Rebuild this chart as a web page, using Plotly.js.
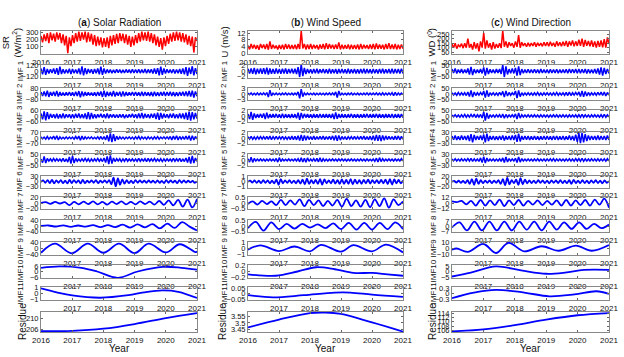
<!DOCTYPE html>
<html><head><meta charset="utf-8">
<script src="https://cdn.plot.ly/plotly-3.0.1.min.js"></script>
<style>html,body{margin:0;padding:0;background:#fff}#chart{width:624px;height:357px}</style>
</head><body><div id="chart"></div>
<script>
// ---------- tick labels ----------
const yearTicks = [2016, 2017, 2018, 2019, 2020, 2021];
const columnTitles = ['(<b>a</b>) Solar Radiation', '(<b>b</b>) Wind Speed', '(<b>c</b>) Wind Direction'];
const titlesA = ['SR<br>(W/m<sup>2</sup>)','IMF 1','IMF 2','IMF 3','IMF 4','IMF 5','IMF 6','IMF 7','IMF 8','IMF 9','IMF10','IMF11','Residue'];
const titlesB = ['U (m/s)','IMF 1','IMF 2','IMF 3','IMF 4','IMF 5','IMF 6','IMF 7','IMF 8','IMF 9','IMF10','IMF11','Residue'];
const titlesC = ['WD (<sup>0</sup>)','IMF 1','IMF 2','IMF 3','IMF4','IMF 5','IMF 6','IMF 7','IMF 8','IMF9','IMF10','IMF11','Residue'];
const yTicksA = [[100,200,300],[-120,0,120],[-80,0,80],[-60,0,60],[-70,0,70],[-50,0,50],[-30,0,30],[-20,0,20],[-40,0,40],[-40,0,40],[-6,0,6],[-1,0,1],[206,210]];
const yTicksB = [[0,4,8,12],[-2,0,2],[-3,0,3],[-2,0,2],[-2,0,2],[-2,0,2],[-1,0,1],[-0.5,0,0.5],[-0.5,0,0.5],[-1,0,1],[-0.2,0,0.2],[-0.05,0,0.05],[3.45,3.5,3.55]];
const yTicksC = [[50,100,150,200,250],[-50,0,50],[-50,0,50],[-50,0,50],[-30,0,30],[-30,0,30],[-20,0,20],[-12,0,12],[-7,0,7],[-10,0,10],[-5,0,5],[-0.3,0,0.3],[106,108,110,112,114]];

// ---------- (a) Solar radiation: daily-like series (evenly spaced samples) ----------
const srSeries = [250,160,270,180,290,150,300,190,280,170, 300,200,290,150,270,120,250,10,230,110,
 260,150,290,170,310,180,300,200,310,160, 300,170,280,130,260,110,240,120,230,90,
 220,100,230,80,250,120,260,140,280,150, 290,180,280,150,270,130,250,100,240,120,
 260,150,290,170,310,190,300,180,310,170, 290,150,270,120,240,100,220,60,230,110,
 250,140,280,170,300,180,310,190,300,170, 290,160,270,130,250,110,240,20,230,180];
const srImf1 = [60,-70,90,-80,50,-50,45,-40,60,-55, 70,-80,100,-60,45,-50,40,-45,55,-60,
 50,-45,40,-50,60,-70,110,-90,70,-60, 50,-40,45,-55,50,-45,60,-70,100,-80,
 60,-50,40,-35,35,-40,30,-35,40,-30, 35,-40,30,-35,40,-30,35,-40,45,-40,
 40,-35,45,-40,35,-40,50,-45,40,-35, 45,-50,60,-55,70,-90,100,-80,60,-50,
 45,-40,35,-40,45,-50,40,-45,50,-55, 60,-70,90,-100,80,-60,110,-90,70,-60];
const srImf2 = [30,-30,40,-35,50,-45,30,-25,35,-30, 45,-40,30,-25,20,-25,25,-20,30,-25,
 25,-30,35,-30,45,-50,40,-35,30,-25, 25,-20,20,-25,25,-30,30,-25,40,-45,
 50,-45,35,-30,30,-35,45,-40,30,-25, 35,-40,40,-35,30,-25,25,-20,30,-25,
 30,-25,25,-30,35,-30,30,-25,25,-30, 30,-35,35,-30,25,-30,30,-25,35,-30,
 30,-25,35,-30,30,-35,25,-30,30,-25, 35,-30,40,-35,45,-40,50,-55,40,-35];
const srImf3 = [30,-40,55,-50,45,-35,25,-20,20,-25, 25,-30,20,-25,30,-25,20,-15,20,-25,
 20,-25,25,-20,30,-25,20,-25,30,-35, 45,-40,35,-30,20,-25,20,-15,25,-20,
 20,-25,30,-25,20,-15,20,-20,15,-20, 20,-15,20,-25,15,-20,20,-15,25,-20,
 20,-25,30,-25,35,-30,25,-20,20,-25, 25,-20,30,-35,40,-45,35,-30,25,-20,
 20,-25,25,-20,30,-25,20,-25,30,-25, 30,-35,40,-45,50,-55,45,-40,35,-30];
const srImf4 = [15,-12,12,-15,20,-15,12,-10,25,-20, 30,-25,15,-12,10,-12,15,-12,12,-10,
 12,-15,20,-15,25,-30,25,-20,15,-12, 12,-10,15,-12,10,-12,15,-15,20,-18,
 20,-25,35,-45,60,-55,50,-40,25,-20, 15,-12,12,-15,12,-10,15,-12,12,-15,
 15,-12,20,-18,15,-12,12,-15,15,-12, 12,-15,15,-12,18,-15,12,-10,15,-12,
 15,-12,20,-25,25,-20,30,-25,20,-15, 15,-18,25,-20,30,-35,30,-25,20,-15];
const srImf5 = [10,-25,35,-30,15,-10,12,-12,15,-10, 12,-10,10,-12,15,-15,12,-20,30,-35,
 40,-30,15,-12,10,-12,12,-10,15,-12, 12,-15,10,-12,12,-10,15,-12,10,-15,
 20,-25,35,-40,45,-35,20,-15,12,-10, 12,-15,10,-12,15,-12,10,-10,12,-12,
 10,-12,15,-12,10,-10,12,-15,15,-12, 12,-10,15,-12,10,-12,12,-15,10,-12,
 12,-10,10,-12,15,-12,12,-10,15,-15, 12,-15,20,-25,30,-35,40,-30,20,-15];
const srImf6 = [-2,8,-6,10,-8,12,-10,8,-6,10,-8,6, -10,12,-8,10,-6,8,-10,12,-8,6,-5,8,
 -6,10,-8,6,-5,8,-6,10,-15,25,-28,20, -18,15,-12,10,-8,6,-8,10,-6,8,-5,6,
 -6,8,-5,6,-7,8,-6,5,-8,10,-6,8, -5,6,-8,10,-6,8,-5,6,-4,5,-6,2];
const srImf7 = [0,3,-3,4,-2,3,-8,4,-5,5,-4,6, -5,4,-6,5,-4,6,-5,4,-5,6,-4,5, -6,8,-7,10,-9,12,-14,13,-17,15];
const srImf8 = [0,4,-4,5,-6,4,-5,6,-8,6,-8,10,-12,12,-10,14,-18,18,-15,30,-5,-35];
const srImf9Year = [2016,2016.45,2016.98,2017.5,2018.0,2018.5,2019.0,2019.45,2020.0,2020.45,2020.95,2021];
const srImf9 = [-30,34,-34,34,-30,34,-33,34,-28,30,-25,-22];
const srImf10Year = [2016,2016.6,2017.3,2017.8,2018.45,2019.1,2019.9,2020.5,2021];
const srImf10 = [4,5.6,4,0,-6.8,0,5,4,2];
const srImf11Year = [2016,2016.5,2017.0,2017.9,2018.8,2019.3,2019.9,2020.4,2021];
const srImf11 = [0.9,0.2,-0.35,-0.75,-0.3,0.2,0.55,0.3,-0.8];
const srResYear = [2016,2017,2018,2019,2020,2021];
const srResidue = [205.3,205.4,206.2,207.9,210.1,211.9];

// ---------- (b) Wind speed ----------
const wsSeries = [4.5,2.2,5.5,2.8,5,2.5,4.8,2,5.5,3, 5.2,2.5,5.5,2,7,2.5,5,2.8,4.5,2.2,
 4.8,2.5,5,2.2,5.5,2.6,5.2,2.4,4.8,2.5, 5,2.3,5.5,2.5,13.5,2.8,5.5,2.2,5.2,2.5,
 5.5,2.5,5,2.8,4.8,2.2,5.2,2.6,5.5,2.3, 6,2.5,5.5,2.8,5,2.4,5.2,2.5,6.5,2.2,
 5,2.5,4.8,2.6,5.2,2.3,5,2.5,4.8,2.4, 5.2,2.2,5.5,2.5,5,2.8,4.8,2.4,5.2,2.5,
 5.5,2.3,5.8,2.5,5.2,2.6,5,2.2,5.5,2.5, 6,2.4,5.2,2.5,5.5,2.2,5,2.5,5.2,2.6];
const wsImf1 = [0.9,-0.8,1,-0.9,1.2,-1.1,0.9,-0.8,1,-0.9, 1.1,-1,1.3,-1.2,1,-0.9,0.8,-0.9,1,-0.8,
 0.8,-0.9,0.9,-0.8,1,-0.9,0.8,-0.7,0.9,-0.8, 0.9,-1,1.5,-2.2,2.6,-1.8,1.2,-1,0.8,-0.7,
 0.7,-0.8,0.8,-0.7,0.9,-0.8,0.7,-0.6,0.8,-0.7, 0.7,-0.8,0.9,-0.8,0.7,-0.7,0.8,-0.9,0.8,-0.7,
 0.8,-0.7,0.7,-0.8,0.9,-0.8,0.7,-0.7,0.8,-0.8, 0.7,-0.8,0.8,-0.7,0.9,-0.8,0.8,-0.7,0.7,-0.8,
 0.8,-0.7,0.7,-0.8,0.8,-0.7,0.9,-0.8,0.7,-0.7, 0.8,-0.8,0.9,-0.8,0.8,-0.7,0.8,-0.8,0.9,-0.8];
const wsImf2 = [0.5,-0.4,0.6,-0.5,0.4,-0.5,0.6,-0.5,0.5,-0.4, 0.6,-0.5,0.8,-1.8,2.2,-1,0.5,-0.4,0.5,-0.4,
 0.4,-0.5,0.5,-0.4,0.6,-0.5,0.4,-0.4,0.5,-0.5, 0.5,-0.4,1.2,-2.5,2.8,-1.5,0.6,-0.5,0.5,-0.4,
 0.4,-0.4,0.5,-0.5,0.4,-0.4,0.5,-0.4,0.4,-0.5, 0.5,-0.4,0.6,-0.5,0.6,-0.5,1.2,-2,1.8,-0.8,
 0.5,-0.4,0.4,-0.5,0.5,-0.4,0.6,-0.5,0.4,-0.4, 0.5,-0.5,0.4,-0.4,0.5,-0.4,0.6,-0.5,0.5,-0.4,
 0.5,-0.4,0.6,-0.5,0.5,-0.6,0.7,-0.6,0.5,-0.5, 0.6,-0.5,0.8,-0.9,1,-0.8,0.6,-0.5,0.5,-0.4];
const wsImf3 = [0.8,-1.2,1.6,-1.5,1,-0.8,0.7,-0.6,0.8,-0.7, 1,-1.2,1.3,-0.9,0.7,-0.6,0.7,-0.6,0.8,-0.7,
 0.7,-0.8,0.9,-0.8,0.7,-0.6,0.6,-0.7,0.7,-0.6, 0.7,-0.9,1.3,-1.5,1.2,-0.9,0.8,-0.6,0.7,-0.6,
 0.6,-0.7,0.7,-0.6,0.6,-0.7,0.8,-0.7,0.7,-0.6, 0.7,-0.6,0.7,-0.8,0.9,-1.2,1.4,-1.1,0.8,-0.7,
 0.7,-0.6,0.6,-0.7,0.7,-0.6,0.8,-0.7,0.6,-0.6, 0.7,-0.7,0.6,-0.6,0.7,-0.6,0.8,-0.7,0.7,-0.6,
 0.7,-0.6,0.8,-0.7,0.7,-0.6,0.6,-0.7,0.7,-0.6, 0.7,-0.7,0.8,-0.8,0.7,-0.6,0.7,-0.7,0.8,-0.7];
const wsImf4 = [0.5,-0.4,0.6,-0.5,0.4,-0.5,0.5,-0.4,0.5,-0.4, 0.5,-0.5,0.6,-0.5,0.7,-0.6,0.5,-0.4,0.6,-0.5,
 0.5,-0.4,0.6,-0.5,0.4,-0.5,0.5,-0.6,0.7,-0.6, 0.6,-0.7,0.9,-1,1.2,-1.1,1,-0.9,0.8,-0.6,
 0.5,-0.6,0.7,-0.6,0.5,-0.5,0.6,-0.5,0.7,-0.6, 0.5,-0.5,0.6,-0.6,0.8,-0.9,1,-1.1,1,-0.8,
 0.6,-0.5,0.5,-0.6,0.5,-0.4,0.5,-0.5,0.6,-0.5, 0.5,-0.5,0.6,-0.5,0.7,-0.6,0.5,-0.6,0.7,-0.8,
 0.9,-1,1.2,-1.1,1.1,-1.2,1,-0.9,0.8,-0.6, 0.6,-0.5,0.5,-0.6,0.7,-0.6,0.8,-0.7,0.6,-0.5];
const wsImf5 = [0.5,-0.8,1.1,-0.9,0.6,-0.4,0.3,-0.3,0.4,-0.3, 0.3,-0.4,0.3,-0.3,0.4,-0.3,0.3,-0.4,0.6,-0.8,
 0.9,-0.6,0.4,-0.3,0.3,-0.3,0.4,-0.3,0.3,-0.3, 0.4,-0.4,0.5,-0.7,0.9,-0.8,0.7,-0.9,0.8,-0.5,
 0.4,-0.4,0.5,-0.5,0.6,-0.7,0.9,-0.7,0.5,-0.4, 0.3,-0.4,0.3,-0.3,0.4,-0.3,0.3,-0.4,0.4,-0.3,
 0.4,-0.3,0.3,-0.4,0.3,-0.3,0.4,-0.3,0.3,-0.4, 0.3,-0.3,0.4,-0.3,0.3,-0.4,0.4,-0.3,0.3,-0.3,
 0.4,-0.5,0.7,-0.8,0.9,-0.6,0.5,-0.4,0.3,-0.3, 0.4,-0.3,0.3,-0.4,0.4,-0.3,0.3,-0.4,0.5,-0.4];
const wsImf6 = [0,0.2,-0.15,0.25,-0.2,0.2,-0.25,0.3,-0.2,0.25,-0.3,0.2, -0.3,0.4,-0.6,0.5,-0.3,0.25,-0.2,0.3,-0.25,0.2,-0.3,0.3,
 -0.35,0.4,-0.5,0.6,-0.4,0.3,-0.3,0.35,-0.4,0.5,-0.55,0.45, -0.3,0.25,-0.3,0.4,-0.35,0.3,-0.4,0.45,-0.4,0.35,-0.4,0.5,
 -0.5,0.4,-0.35,0.3,-0.4,0.35,-0.3,0.4,-0.35,0.3,-0.25,0.3, -0.3,0.35,-0.3,0.4,-0.45,0.5,-0.55,0.45,-0.3,0.35,-0.3,0.25];
const wsImf7 = [-0.1,0.15,-0.15,0.2,-0.1,0.15,-0.2,0.3,-0.2,0.25,-0.15,0.35,-0.3,0.3,-0.2,0.25,-0.3,0.2,-0.25,0.3,-0.35,0.4,-0.3,0.25,-0.35,0.3,-0.4,0.35,-0.3,0.45,-0.45,0.35,-0.2,0.15];
const wsImf8 = [-0.2,0.4,-0.45,0.35,-0.3,0.2,-0.25,0.2,-0.15,0.15,-0.2,0.25,-0.3,0.3,-0.35,0.3,-0.35,0.3,-0.3,0.35,-0.3];
const wsImf9Year = [2016,2016.4,2017.0,2017.5,2018.0,2018.35,2019.0,2019.4,2020.0,2020.45,2021];
const wsImf9 = [-0.2,0.55,-0.45,0.35,-0.5,0.65,-0.55,0.6,-0.5,0.7,-0.7];
const wsImf10Year = [2016,2016.9,2017.6,2018.2,2018.8,2019.4,2020.0,2020.5,2021];
const wsImf10 = [-0.1,-0.15,0.0,0.15,0.08,-0.05,-0.05,-0.1,-0.15];
const wsImf11Year = [2016,2016.8,2017.8,2018.8,2019.3,2020.0,2021];
const wsImf11 = [-0.015,-0.035,-0.015,0.008,0.008,-0.01,-0.03];
const wsResYear = [2016,2017,2018,2018.5,2019,2020,2021];
const wsResidue = [3.467,3.525,3.573,3.577,3.567,3.504,3.436];

// ---------- (c) Wind direction ----------
const wdSeries = [140,100,150,90,130,110,145,95,150,100, 200,100,140,80,160,90,150,60,170,100,
 265,90,180,100,150,80,160,90,140,100, 150,95,290,110,170,100,160,120,150,100,
 170,110,240,100,160,120,150,110,155,115, 150,120,160,110,155,120,150,115,160,120,
 160,115,165,120,155,110,170,120,160,115, 165,120,175,110,170,125,180,115,170,120,
 190,120,200,110,185,120,175,115,180,110, 170,100,175,110,180,105,195,100,215,140];
const wdImf1 = [20,-15,25,-20,15,-15,20,-18,15,-15, 25,-30,40,-35,20,-18,15,-15,20,-20,
 35,-40,30,-25,18,-15,15,-18,20,-15, 20,-25,60,-55,45,-30,20,-18,25,-20,
 30,-40,45,-35,20,-18,15,-15,18,-15, 15,-15,18,-15,15,-18,20,-15,15,-15,
 15,-18,18,-15,15,-15,18,-18,15,-15, 15,-15,18,-18,20,-15,18,-15,20,-18,
 20,-18,18,-15,20,-20,18,-18,15,-18, 20,-20,25,-30,35,-40,30,-25,20,-20];
const wdImf2 = [12,-10,10,-12,15,-10,12,-10,12,-15, 20,-25,35,-30,20,-15,12,-10,15,-12,
 30,-35,35,-25,12,-10,12,-12,10,-12, 15,-12,25,-30,30,-20,15,-12,12,-10,
 30,-40,35,-25,12,-12,10,-10,12,-10, 10,-12,12,-10,15,-12,10,-12,12,-10,
 12,-10,10,-12,12,-10,15,-12,10,-10, 12,-12,15,-15,18,-15,12,-10,15,-12,
 20,-25,30,-28,25,-20,15,-12,12,-10, 12,-12,15,-12,18,-15,20,-18,15,-12];
const wdImf3 = [10,-8,12,-10,10,-12,12,-10,15,-12, 12,-10,15,-12,18,-15,12,-10,15,-20,
 40,-45,30,-25,12,-10,10,-12,12,-10, 12,-15,20,-22,15,-12,10,-10,12,-10,
 20,-30,30,-20,12,-10,10,-10,12,-10, 10,-10,12,-10,10,-12,12,-10,10,-10,
 10,-12,10,-10,12,-10,12,-12,10,-10, 12,-10,10,-12,12,-10,10,-10,12,-12,
 12,-12,15,-12,12,-10,10,-12,12,-10, 12,-10,10,-12,12,-12,15,-12,12,-10];
const wdImf4 = [12,-10,15,-12,10,-12,15,-10,12,-12, 15,-18,22,-25,18,-12,12,-10,15,-12,
 20,-25,25,-18,12,-10,12,-12,10,-12, 12,-10,15,-15,12,-10,12,-12,15,-12,
 18,-22,26,-20,12,-10,12,-10,12,-12, 10,-10,12,-10,10,-12,10,-10,12,-10,
 12,-10,10,-12,12,-10,12,-12,10,-10, 12,-12,10,-10,15,-12,12,-15,20,-22,
 28,-30,30,-25,22,-18,15,-12,12,-10, 12,-12,15,-12,12,-10,12,-12,15,-12];
const wdImf5 = [6,-5,7,-6,5,-6,7,-5,6,-6, 8,-6,10,-8,7,-6,6,-8,12,-15,
 20,-18,12,-8,6,-5,6,-6,5,-6, 7,-8,12,-15,18,-12,8,-6,6,-5,
 10,-15,18,-12,8,-6,5,-5,6,-5, 5,-6,6,-5,7,-6,5,-5,6,-6,
 6,-5,7,-6,8,-7,6,-5,6,-5, 5,-6,6,-5,7,-6,6,-7,8,-6,
 8,-7,9,-8,7,-6,6,-6,7,-5, 6,-6,7,-6,6,-5,7,-7,8,-6];
const wdImf6 = [0,3,-3,4,-4,3,-5,6,-8,10,-12,12, -8,6,-5,4,-4,5,-5,4,-4,6,-8,10,
 -14,15,-10,6,-5,8,-12,14,-10,8,-6,5, -5,4,-5,6,-4,5,-5,4,-6,5,-4,5,
 -5,6,-5,4,-5,6,-8,7,-5,4,-5,6, -5,4,-6,5,-4,6,-5,4,-6,5,-4,3];
const wdImf7 = [4,2,5,-3,5,-6,7,-6,6,-5,8,-7,6,-5,7,-6,5,-4,6,-5,5,-4,6,-6,7,-6,6,-5,7,-6,8,-4,10,-11];
const wdImf8 = [-2,5,-6,6,-6,6,-6,6,-6,6,-5,6,-6,6,-5,5,-4,5,-4,3,-3,2];
const wdImf9Year = [2016,2016.15,2016.5,2017.0,2017.4,2017.8,2018.3,2018.85,2019.4,2019.95,2020.45,2021];
const wdImf9 = [-2,0,-6,8,-8,10,-5,4,-4,5,-4,6];
const wdImf10Year = [2016,2016.6,2017.4,2018.2,2019.0,2019.6,2020.2,2021];
const wdImf10 = [-4.5,-1,4.5,1,-2,-1,1.5,1.5];
const wdImf11Year = [2016,2016.7,2017.4,2018.3,2019.1,2019.9,2020.6,2021];
const wdImf11 = [-0.25,0.05,0.2,0.05,-0.15,-0.05,0.12,-0.02];
const wdResYear = [2016,2017,2018,2019,2020,2021];
const wdResidue = [105.6,106.5,108.5,111,113,114];

// ---------- layout config (positions / styles, not data) ----------
const W = 624, H = 357;
const colPx = [[41,197],[248,403],[452,609]];
const titleXPx = [[11,20,20,20,20,20,20,20,20,20,20,20,22],[224,224,224,224,224,224,224,224,224,224,224,224,222],[431,433,433,433,433,433,433,433,433,433,433,433,432]];
const rowPx = [[31,54],[65,77.5],[88,100],[110,122],[132,144],[154,166],[176,187.5],[197,209],[220,232],[242,255],[265,278],[287,300],[312,332]];
const yRanges = [
 [[0,318],[-138,138],[-92,92],[-70,70],[-80,80],[-58,58],[-35,35],[-23,23],[-46,46],[-46,46],[-7,7],[-1.15,1.15],[205,212.3]],
 [[-0.6,13.4],[-2.3,2.3],[-3.45,3.45],[-2.3,2.3],[-2.3,2.3],[-2.3,2.3],[-1.15,1.15],[-0.58,0.58],[-0.58,0.58],[-1.15,1.15],[-0.23,0.23],[-0.058,0.058],[3.433,3.581]],
 [[30,285],[-58,58],[-58,58],[-58,58],[-35,35],[-35,35],[-23,23],[-14,14],[-8.2,8.2],[-11.5,11.5],[-5.8,5.8],[-0.35,0.35],[105.3,114.5]]
];

function evenYears(n){ const a=[]; for(let i=0;i<n;i++) a.push(2016+5*i/(n-1)); return a; }

const columns = [
 {titles: titlesA, ticks: yTicksA, rows: [
  [null, srSeries],[null, srImf1],[null, srImf2],[null, srImf3],[null, srImf4],[null, srImf5],
  [null, srImf6],[null, srImf7],[null, srImf8],[srImf9Year, srImf9],[srImf10Year, srImf10],[srImf11Year, srImf11],[srResYear, srResidue]]},
 {titles: titlesB, ticks: yTicksB, rows: [
  [null, wsSeries],[null, wsImf1],[null, wsImf2],[null, wsImf3],[null, wsImf4],[null, wsImf5],
  [null, wsImf6],[null, wsImf7],[null, wsImf8],[wsImf9Year, wsImf9],[wsImf10Year, wsImf10],[wsImf11Year, wsImf11],[wsResYear, wsResidue]]},
 {titles: titlesC, ticks: yTicksC, rows: [
  [null, wdSeries],[null, wdImf1],[null, wdImf2],[null, wdImf3],[null, wdImf4],[null, wdImf5],
  [null, wdImf6],[null, wdImf7],[null, wdImf8],[wdImf9Year, wdImf9],[wdImf10Year, wdImf10],[wdImf11Year, wdImf11],[wdResYear, wdResidue]]}
];

const FONT = 'Liberation Sans, Arial, sans-serif';
const traces = [];
const layout = {
  width: W, height: H, margin: {l:0,r:0,t:0,b:0},
  paper_bgcolor: '#fff', plot_bgcolor: '#fff', showlegend: false,
  font: {family: FONT, size: 8, color: '#000'},
  annotations: []
};

columns.forEach((col, c) => {
  col.rows.forEach((row, r) => {
    const k = c*13 + r + 1;
    const xs = row[0] || evenYears(row[1].length);
    const noisy = r <= 5;
    traces.push({
      type: 'scatter', mode: 'lines', x: xs, y: row[1],
      xaxis: 'x' + (k===1?'':k), yaxis: 'y' + (k===1?'':k),
      line: {color: r===0 ? '#ff0000' : '#0000ff', width: noisy ? 1.5 : 1.8,
             shape: noisy ? 'linear' : 'spline', smoothing: 1},
      hoverinfo: 'skip'
    });
    const [x0,x1] = colPx[c], [t,b] = rowPx[r];
    const showAll = (r===0 || r===12);
    const tv = showAll ? yearTicks : yearTicks.slice(1);
    layout['xaxis' + (k===1?'':k)] = {
      domain: [x0/W, x1/W], anchor: 'y' + (k===1?'':k), range: [2016, 2021],
      tickvals: tv, ticktext: tv.map(String), ticks: 'inside', ticklen: 2, tickcolor: '#666',
      showline: true, linecolor: '#888', linewidth: 1, mirror: 'ticks',
      showgrid: false, zeroline: false, tickfont: {size: 8, family: FONT, color: '#111'},
      fixedrange: true
    };
    const yt = col.ticks[r];
    layout['yaxis' + (k===1?'':k)] = {
      domain: [1 - b/H, 1 - t/H], anchor: 'x' + (k===1?'':k), range: yRanges[c][r],
      tickvals: yt, ticktext: yt.map(v => String(v).replace('-', '\u2212')),
      ticks: 'inside', ticklen: 2, tickcolor: '#666',
      showline: true, linecolor: '#888', linewidth: 1, mirror: 'ticks',
      showgrid: false, zeroline: false, tickfont: {size: 7.5, family: FONT, color: '#111'},
      fixedrange: true
    };
    layout.annotations.push({
      text: col.titles[r], textangle: -90, x: titleXPx[c][r]/W, y: 1 - ((t+b)/2)/H,
      xref: 'paper', yref: 'paper', showarrow: false, xanchor: 'center', yanchor: 'middle',
      font: {size: r===12 ? 10 : (r===0 ? 9.5 : 8), family: FONT, color: '#111'}
    });
  });
  const cx = (colPx[c][0] + colPx[c][1]) / 2;
  layout.annotations.push({text: columnTitles[c], x: cx/W, y: 1 - 23/H, xref: 'paper', yref: 'paper',
    showarrow: false, xanchor: 'center', yanchor: 'middle', font: {size: 10, family: FONT, color: '#111'}});
  layout.annotations.push({text: 'Year', x: cx/W, y: 1 - 348.5/H, xref: 'paper', yref: 'paper',
    showarrow: false, xanchor: 'center', yanchor: 'middle', font: {size: 10, family: FONT, color: '#111'}});
});

Plotly.newPlot('chart', traces, layout, {staticPlot: true, displayModeBar: false});
</script>
</body></html>
